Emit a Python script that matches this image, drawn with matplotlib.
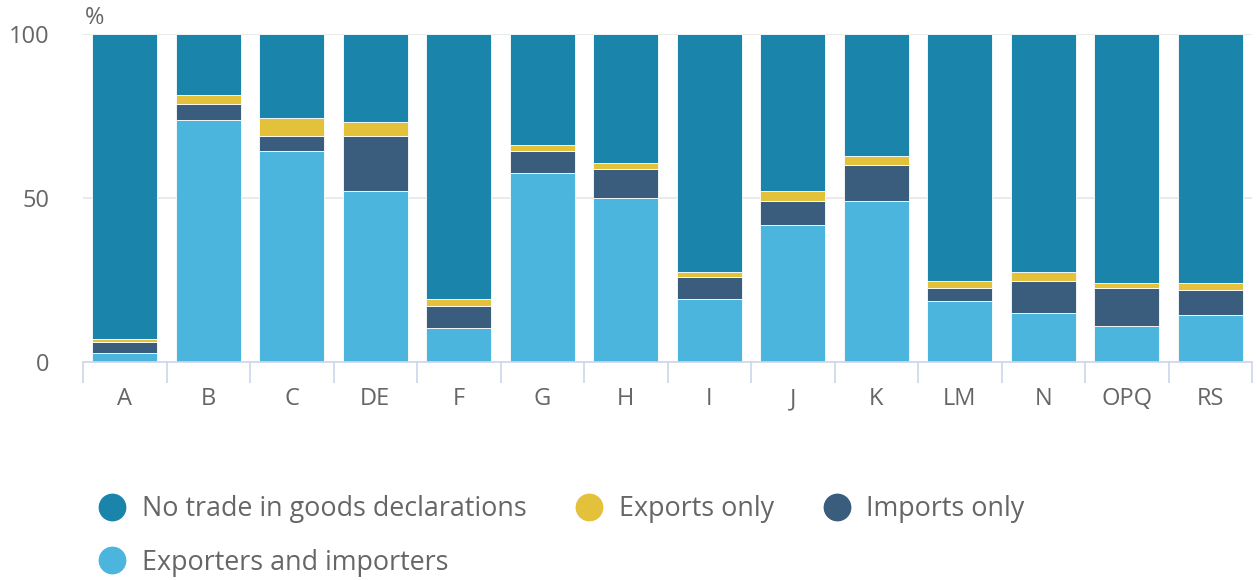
import matplotlib
matplotlib.use('Agg')
import matplotlib.pyplot as plt
from matplotlib.lines import Line2D
import numpy as np

plt.rcParams['font.family'] = ['Open Sans', 'DejaVu Sans']

sectors = ['A', 'B', 'C', 'DE', 'F', 'G', 'H', 'I', 'J', 'K', 'LM', 'N', 'OPQ', 'RS']
exporters_importers = [2.7, 73.8, 64.2, 52.0, 10.4, 57.5, 49.9, 19.1, 41.7, 49.2, 18.6, 15.0, 11.0, 14.4]
imports_only = [3.5, 4.8, 4.7, 16.9, 6.7, 6.7, 8.8, 6.8, 7.5, 10.9, 3.9, 9.6, 11.5, 7.4]
exports_only = [0.7, 2.7, 5.6, 4.3, 2.0, 2.1, 2.1, 1.4, 2.8, 2.7, 2.1, 2.7, 1.5, 2.2]

c_none = '#1a84ab'
c_exp = '#e3c13a'
c_imp = '#3b5d7d'
c_both = '#4bb5dd'
txt = '#666666'

ei = np.array(exporters_importers)
im = np.array(imports_only)
ex = np.array(exports_only)
no_trade = 100 - ei - im - ex

fig = plt.figure(figsize=(12.57, 5.80), dpi=100)
ax = fig.add_axes([83/1257, 1-362/580, (1252-83)/1257, (362-34)/580])

x = np.arange(len(sectors))
w = 0.78
kw = dict(width=w, edgecolor='#ffffff', linewidth=0.6, zorder=3)
ax.bar(x, ei, color=c_both, **kw)
ax.bar(x, im, bottom=ei, color=c_imp, **kw)
ax.bar(x, ex, bottom=ei+im, color=c_exp, **kw)
ax.bar(x, no_trade, bottom=ei+im+ex, color=c_none, **kw)

ax.set_xlim(-0.5, len(sectors)-0.5)
ax.set_ylim(0, 100)
ax.set_yticks([0, 50, 100])
ax.set_yticklabels(['0', '50', '100'])
ax.grid(axis='y', color='#e6e6e6', linewidth=1.2, zorder=0)
ax.set_axisbelow(True)

ax.set_xticks(x)
ax.set_xticklabels(sectors)
ax.set_xticks(np.arange(-0.5, len(sectors)), minor=True)
ax.tick_params(axis='x', which='major', length=0, pad=18, labelsize=17, labelcolor=txt)
ax.tick_params(axis='x', which='minor', length=15, width=1.2, color='#ccd6eb')
ax.tick_params(axis='y', length=0, pad=24, labelsize=17, labelcolor=txt)
for lbl in ax.get_yticklabels():
    lbl.set_va('center_baseline')

for s in ['top', 'right', 'left']:
    ax.spines[s].set_visible(False)
ax.spines['bottom'].set_color('#ccd6eb')
ax.spines['bottom'].set_linewidth(1.2)
ax.spines['bottom'].set_zorder(4)

fig.text(85/1257, 1-18/580, '%', fontsize=17, color=txt, va='center', ha='left')

names = ['No trade in goods declarations', 'Exporters and importers', 'Exports only', 'Imports only']
cols = [c_none, c_both, c_exp, c_imp]
handles = [Line2D([], [], marker='o', linestyle='', markersize=19, color=c) for c in cols]
fig.legend(handles, names, ncol=3, loc='upper left', bbox_to_anchor=(72/1257, 1-471/580),
           frameon=False, fontsize=19.4, labelcolor=txt, handletextpad=0.5,
           columnspacing=1.72, labelspacing=0.95, handlelength=1.2)

fig.savefig('out.png', dpi=100, facecolor='white')
